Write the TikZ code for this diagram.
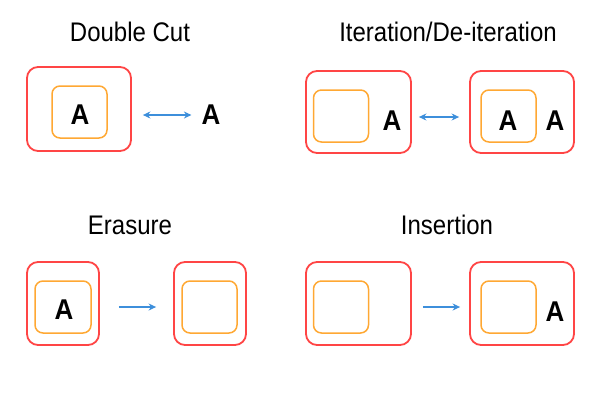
\documentclass[tikz,border=0pt]{standalone}
\usepackage{fontspec}
\setmainfont{Liberation Sans}[BoldFont={Liberation Sans Bold}]
\usetikzlibrary{arrows.meta}
\definecolor{cutred}{HTML}{FF4545}
\definecolor{cutorange}{HTML}{FFA833}
\definecolor{arrblue}{HTML}{3D8FDB}
\begin{document}
\begin{tikzpicture}[x=1pt,y=-1pt,
  outerbox/.style={draw=cutred,line width=1.8pt,rounded corners=11pt,minimum width=#1,inner sep=0pt},
  innerbox/.style={draw=cutorange,line width=1.5pt,rounded corners=8pt,minimum width=55pt,minimum height=52pt,inner sep=0pt},
  letter/.style={inner sep=0pt,font=\fontsize{26}{26}\selectfont\bfseries,yscale=1.1,transform shape},
  title/.style={inner sep=0pt,font=\fontsize{24}{24}\selectfont,yscale=1.12,transform shape},
  arr/.style={draw=arrblue,line width=1.4pt},
  tip/.style={-{Stealth[length=7.5pt,width=7pt]}},
  dtip/.style={{Stealth[length=7.5pt,width=7pt]}-{Stealth[length=7.5pt,width=7pt]}}]
\useasboundingbox (0,0) rectangle (600,400);
% titles
\node[title] (t1) at (130,32) {Double Cut};
\node[title] (t2) at (448,32) {Iteration/De-iteration};
\node[title] (t3) at (130,225) {Erasure};
\node[title] (t4) at (447,225) {Insertion};
% Double cut
\node[outerbox=104pt,minimum height=84pt] (dc-o) at (79,109) {};
\node[innerbox] (dc-i) at (79.5,112) {};
\node[letter] (dc-a1) at (80,115) {A};
\node[letter] (dc-a2) at (211,115) {A};
\draw[arr,dtip,shorten <=11pt,shorten >=10pt] (dc-o.east |- dc-a2.center) -- (dc-a2.west);
% Iteration
\node[outerbox=105pt,minimum height=82pt] (it-l) at (358.5,112) {};
\node[innerbox] (it-li) at (341,116) {};
\node[letter] (it-la) at (392,121) {A};
\node[outerbox=104pt,minimum height=82pt] (it-r) at (522,112) {};
\node[innerbox] (it-ri) at (508.5,116) {};
\node[letter] (it-ra1) at (508,121) {A};
\node[letter] (it-ra2) at (555,121) {A};
\draw[arr,dtip,shorten <=7pt,shorten >=10pt] ([yshift=-5pt]it-l.east) -- ([yshift=-5pt]it-r.west);
% Erasure
\node[outerbox=72pt,minimum height=83pt] (er-l) at (63,303.5) {};
\node[innerbox,minimum width=56pt] (er-li) at (63,307) {};
\node[letter] (er-a) at (64,310) {A};
\node[outerbox=72pt,minimum height=83pt] (er-r) at (210,303.5) {};
\node[innerbox] (er-ri) at (209.5,307) {};
\draw[arr,tip,shorten <=19pt,shorten >=17pt] ([yshift=-3.5pt]er-l.east) -- ([yshift=-3.5pt]er-r.west);
% Insertion
\node[outerbox=105pt,minimum height=83pt] (in-l) at (358.5,303.5) {};
\node[innerbox] (in-li) at (341,307) {};
\node[outerbox=104pt,minimum height=83pt] (in-r) at (522,303.5) {};
\node[innerbox] (in-ri) at (508.5,307) {};
\node[letter] (in-a) at (555,312) {A};
\draw[arr,tip,shorten <=11pt,shorten >=9pt] ([yshift=-3.5pt]in-l.east) -- ([yshift=-3.5pt]in-r.west);
\end{tikzpicture}
\end{document}
